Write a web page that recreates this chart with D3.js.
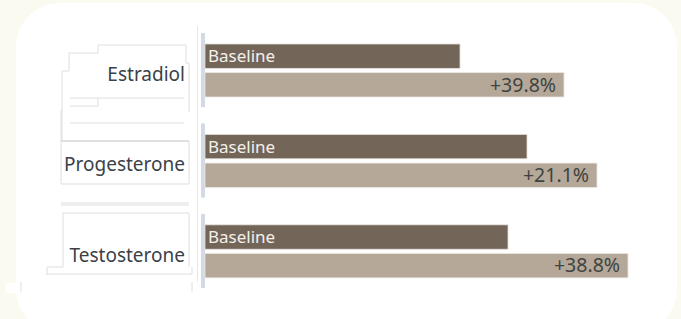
<!DOCTYPE html>
<meta charset="utf-8">
<head>
<style>
 body { margin: 0; background: #fbfaf1; }
 svg { display: block; }
 .label text { font-family: "Noto Sans", sans-serif; fill: #3b4148; }
 .base-label { font-family: "Noto Sans", sans-serif; fill: #f3f0ec; }
 .pct-label { font-family: "Noto Sans", sans-serif; fill: #3d4444; }
 .deco { fill: none; stroke: #dedede; stroke-width: 1px; }
</style>
</head>
<body>
<svg width="681" height="319"></svg>
<script src="https://cdn.jsdelivr.net/npm/d3@7"></script>
<script>
  // data
  var hormones = ['Estradiol', 'Progesterone', 'Testosterone'];
  var baseline = [255, 322, 303];
  var treated = [359, 392, 423];
  var changes = ['+39.8%', '+21.1%', '+38.8%'];
  var seriesNames = ['Baseline', 'Treated'];

  var svg = d3.select('svg');
  var width = +svg.attr('width');
  var height = +svg.attr('height');

  // white card
  svg.append('rect')
    .attr('x', 16).attr('y', 3)
    .attr('width', 661).attr('height', 330)
    .attr('rx', 44)
    .attr('fill', '#ffffff');

  var y = d3.scaleBand()
    .domain(hormones)
    .range([33, 288])
    .paddingInner(0.18);

  var ySub = d3.scaleBand()
    .domain(seriesNames)
    .range([11, 64])
    .paddingInner(0.15);

  var x = d3.scaleLinear()
    .domain([0, 480])
    .range([205, 685]);

  // leftover outline boxes round the labels
  var deco = svg.append('g').attr('class', 'deco');
  var paths = [
    'M62,140 V71 H69 V53 H98 V45 H186 V63 H189 V112',
    'M70,98 H184 M70,106 H98 V98 M70,123 H184',
    'M61,110 V184 H189 V141 H61',
    'M61,203 H189 M61,205 H189',
    'M63,267 V213 H189 V267',
    'M47,275 V267 H63 M47,274 H192 V267',
    'M21,282 V292 M192,282 V292'
  ];
  deco.selectAll('path').data(paths).join('path').attr('d', function(d) { return d; });
  svg.append('line').attr('x1', 61).attr('x2', 189).attr('y1', 141).attr('y2', 141)
    .attr('stroke', '#cfcfcf');
  svg.append('rect').attr('x', 6).attr('y', 283).attr('width', 14).attr('height', 10)
    .attr('fill', '#ffffff');

  // thin axis line
  svg.append('line')
    .attr('x1', 197.5).attr('x2', 197.5)
    .attr('y1', 26).attr('y2', 282)
    .attr('stroke', '#e6e6e6');

  // group markers on the axis
  svg.append('g').selectAll('rect').data(hormones).join('rect')
    .attr('x', 201).attr('width', 4)
    .attr('y', function(d) { return y(d); })
    .attr('height', y.bandwidth())
    .attr('fill', '#d3dae5');

  // labels
  svg.append('g').attr('class', 'label').selectAll('text').data(hormones).join('text')
    .attr('x', 185)
    .attr('y', function(d) { return y(d) + y.bandwidth() / 2 + 4; })
    .attr('dy', '0.35em')
    .attr('text-anchor', 'end')
    .attr('font-size', 19)
    .text(function(d) { return d; });

  var rows = hormones.map(function(h, i) {
    return { name: h, baseline: baseline[i], treated: treated[i], change: changes[i] };
  });

  var g = svg.append('g').selectAll('g').data(rows).join('g')
    .attr('transform', function(d) { return 'translate(0,' + y(d.name) + ')'; });

  g.append('rect')
    .attr('x', x(0))
    .attr('y', ySub('Baseline'))
    .attr('width', function(d) { return x(d.baseline) - x(0); })
    .attr('height', ySub.bandwidth())
    .attr('fill', '#736558')
    .attr('stroke', '#e4dfd9').attr('stroke-width', 0.8);

  g.append('rect')
    .attr('x', x(0))
    .attr('y', ySub('Treated'))
    .attr('width', function(d) { return x(d.treated) - x(0); })
    .attr('height', ySub.bandwidth())
    .attr('fill', '#b5a898')
    .attr('stroke', '#e9e5e0').attr('stroke-width', 0.8);

  g.append('text')
    .attr('class', 'base-label')
    .attr('x', x(0) + 3)
    .attr('y', ySub('Baseline') + ySub.bandwidth() / 2)
    .attr('dy', '0.35em')
    .attr('font-size', 17)
    .text('Baseline');

  g.append('text')
    .attr('class', 'pct-label')
    .attr('x', function(d) { return x(d.treated) - 8; })
    .attr('y', ySub('Treated') + ySub.bandwidth() / 2)
    .attr('dy', '0.35em')
    .attr('text-anchor', 'end')
    .attr('font-size', 19.5)
    .text(function(d) { return d.change; });
</script>
</body>
</html>
